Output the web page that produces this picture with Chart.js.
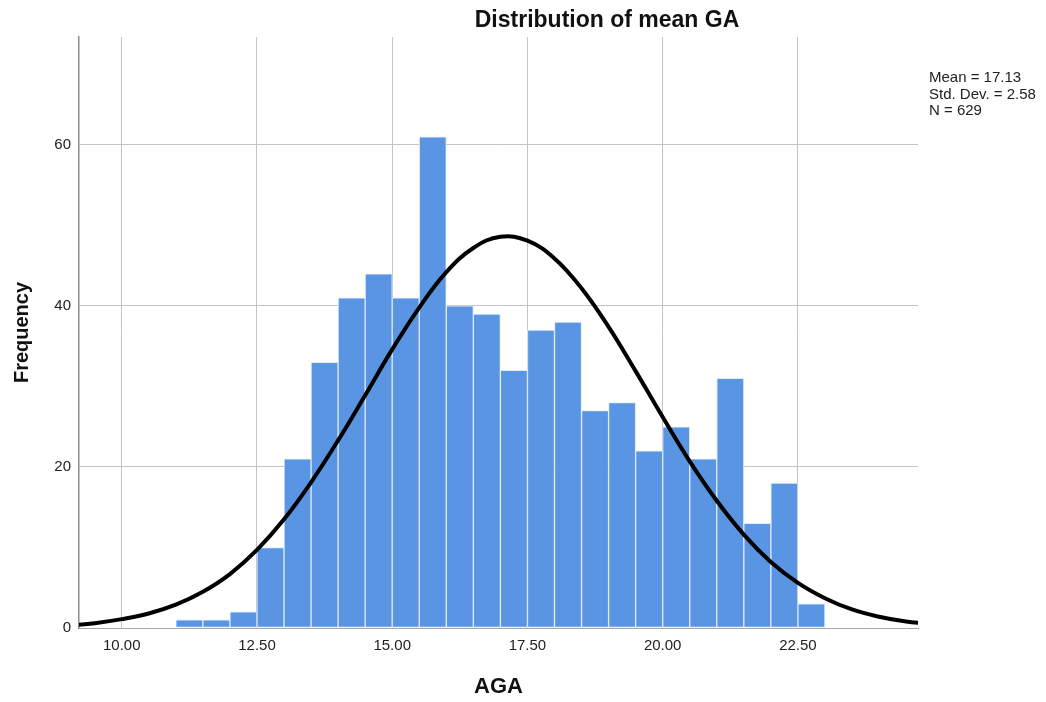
<!DOCTYPE html>
<html>
<head>
<meta charset="utf-8">
<script src="https://cdn.jsdelivr.net/npm/chart.js@4.4.1/dist/chart.umd.min.js"></script>
<style>
  body { margin: 0; background: #fff; }
  #wrap { width: 1046px; height: 702px; }
</style>
</head>
<body>
<div id="wrap"><canvas id="miGrafica" width="1046" height="702"></canvas></div>
<script>
// bin centres (width 0.5) and counts
const binCentres = [11.25, 11.75, 12.25, 12.75, 13.25, 13.75, 14.25, 14.75, 15.25, 15.75, 16.25, 16.75,
                    17.25, 17.75, 18.25, 18.75, 19.25, 19.75, 20.25, 20.75, 21.25, 21.75, 22.25, 22.75];
const counts = [1, 1, 2, 10, 21, 33, 41, 44, 41, 61, 40, 39,
                32, 37, 38, 27, 28, 22, 25, 21, 31, 13, 18, 3];

// black curve, every 0.5
const curveX = [9.0, 9.5, 10.0, 10.5, 11.0, 11.5, 12.0, 12.5, 13.0, 13.5, 14.0, 14.5, 15.0, 15.5, 16.0, 16.5,
                17.0, 17.5, 18.0, 18.5, 19.0, 19.5, 20.0, 20.5, 21.0, 21.5, 22.0, 22.5, 23.0, 23.5, 24.0, 24.5, 25.0];
const curveY = [0.3, 0.6, 1.1, 1.8, 2.9, 4.5, 6.7, 9.7, 13.5, 18.1, 23.3, 28.9, 34.6, 39.8, 44.2, 47.2,
                48.6, 48.1, 45.9, 42.2, 37.4, 31.9, 26.2, 20.7, 15.8, 11.6, 8.2, 5.6, 3.7, 2.3, 1.4, 0.8, 0.5];

const xTicks = [10, 12.5, 15, 17.5, 20, 22.5];
const yTicks = [0, 20, 40, 60];
const statLines = ["Mean = 17.13", "Std. Dev. = 2.58", "N = 629"];

const FONT = "'Liberation Sans', Arial, sans-serif";

// title + stats box
const textos = {
    id: "textos",
    afterDraw(chart) {
        const ctx = chart.ctx;
        ctx.save();
        ctx.fillStyle = "#111";
        ctx.font = "bold 23px " + FONT;
        ctx.textAlign = "center";
        ctx.textBaseline = "alphabetic";
        ctx.fillText("Distribution of mean GA", 607, 27);
        ctx.font = "15px " + FONT;
        ctx.textAlign = "left";
        ctx.fillStyle = "#222";
        statLines.forEach((t, i) => ctx.fillText(t, 929, 82 + i * 16.5));
        ctx.restore();
    }
};

const ctx = document.getElementById("miGrafica").getContext("2d");
new Chart(ctx, {
    data: {
        datasets: [
            {
                type: "line",
                data: curveX.map((x, i) => ({ x: x, y: curveY[i] })),
                borderColor: "#000",
                borderWidth: 4,
                pointRadius: 0,
                tension: 0.4,
                fill: false,
                order: 0
            },
            {
                type: "bar",
                data: binCentres.map((x, i) => ({ x: x, y: counts[i] })),
                backgroundColor: "#5a95e4",
                borderColor: "rgba(220,234,252,0.9)",
                borderWidth: 1,
                borderSkipped: false,
                categoryPercentage: 1,
                barPercentage: 1,
                order: 1
            }
        ]
    },
    options: {
        responsive: false,
        animation: false,
        layout: { padding: { top: 37, right: 128, left: 0, bottom: 0 } },
        plugins: {
            legend: { display: false },
            title: { display: false },
            tooltip: { enabled: false }
        },
        scales: {
            x: {
                type: "linear",
                min: 9.21,
                max: 24.72,
                offset: false,
                afterBuildTicks: (axis) => { axis.ticks = xTicks.map(v => ({ value: v })); },
                afterFit: (axis) => { axis.height = 74; },
                ticks: {
                    padding: 9,
                    color: "#222",
                    font: { family: FONT, size: 15 },
                    callback: (v) => Number(v).toFixed(2),
                    maxRotation: 0
                },
                grid: { color: "#c4c4c4", lineWidth: 1, drawTicks: false, offset: false },
                border: { color: "#a8a8a8", width: 1 },
                title: {
                    display: true,
                    text: "AGA",
                    color: "#111",
                    font: { family: FONT, size: 22, weight: "bold" },
                    padding: { top: 0, bottom: 2 }
                }
            },
            y: {
                min: 0,
                max: 73.4,
                afterBuildTicks: (axis) => { axis.ticks = yTicks.map(v => ({ value: v })); },
                afterFit: (axis) => { axis.width = 79; },
                ticks: {
                    padding: 8,
                    color: "#222",
                    font: { family: FONT, size: 15 }
                },
                grid: { color: "#c4c4c4", lineWidth: 1, drawTicks: false },
                border: { color: "#8c8c8c", width: 1.5 },
                title: {
                    display: true,
                    text: "Frequency",
                    color: "#111",
                    font: { family: FONT, size: 20, weight: "bold" },
                    padding: { top: 10, bottom: 0 }
                }
            }
        }
    },
    plugins: [textos]
});
</script>
</body>
</html>
